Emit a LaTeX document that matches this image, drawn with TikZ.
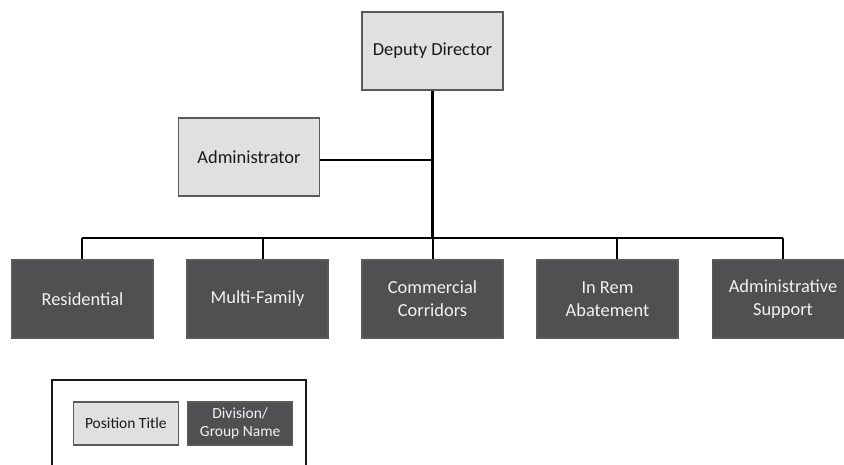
\documentclass[tikz,border=0pt]{standalone}
\usepackage{fontspec}
\setmainfont{Carlito}
\definecolor{lightbox}{HTML}{E0E0E0}
\definecolor{darkbox}{HTML}{505052}
\definecolor{boxline}{HTML}{5A5A5A}
\definecolor{darktext}{HTML}{F2F2F2}
\tikzset{
  orgbox/.style={draw=boxline, line width=1.3pt, minimum width=141pt, minimum height=78pt,
    inner sep=0pt, align=center, font=\fontsize{18.4}{23}\selectfont},
  position/.style={orgbox, fill=lightbox, text=black!90},
  division/.style={orgbox, fill=darkbox, text=darktext},
  keybox/.style={draw=boxline, line width=1.2pt, minimum width=105pt, minimum height=43pt,
    inner sep=0pt, align=center, font=\fontsize{15.5}{18}\selectfont},
  link/.style={line width=2pt, black},
  trunk/.style={line width=3pt, black}
}
\begin{document}
\begin{tikzpicture}[x=1pt,y=-1pt]
\path[use as bounding box, clip] (0,0) rectangle (844,464);
\fill[white] (0,0) rectangle (844,464);

% top of the chart
\node[position] (dd) at (432.5,51) {Deputy Director};
\node[position] (adm) at (249,157) {Administrator};

% divisions
\node[division] (res) at (82.5,299) {Residential};
\node[division] (mf)  at (257.5,299) {Multi-Family};
\node[division] (cc)  at (432.5,299) {Commercial\\Corridors};
\node[division] (ir)  at (607.5,299) {In Rem\\Abatement};
\node[division] (as)  at (783,299) {Administrative\\Support};

% reporting lines
\coordinate (busL) at (82,238);
\coordinate (busR) at (783,238);
\coordinate (busC) at (432.5,238);
\draw[link] ([yshift=-3pt]adm.east) -- ([yshift=-3pt]adm.east -| dd.south);
\draw[link] (busL) -- (busR);
\draw[link] (busL) -- (res.north -| busL);
\draw[link] (263,238) -- ([xshift=5.5pt]mf.north);
\draw[link] (busC) -- (cc.north);
\draw[link] (616.5,238) -- ([xshift=9pt]ir.north);
\draw[link] (busR) -- (as.north);
\draw[trunk] (dd.south) -- (busC);

% key
\coordinate (keyTL) at (52,380);
\coordinate (keyBR) at (305.5,480);
\draw[line width=2pt, black!90] (keyTL) rectangle (keyBR);
\node[keybox, fill=lightbox, text=black!90] (keyp) at (125.8,423.5) {Position Title};
\node[keybox, fill=darkbox, text=darktext] (keyd) at (240.2,423.5) {Division/\\Group Name};
\end{tikzpicture}
\end{document}
